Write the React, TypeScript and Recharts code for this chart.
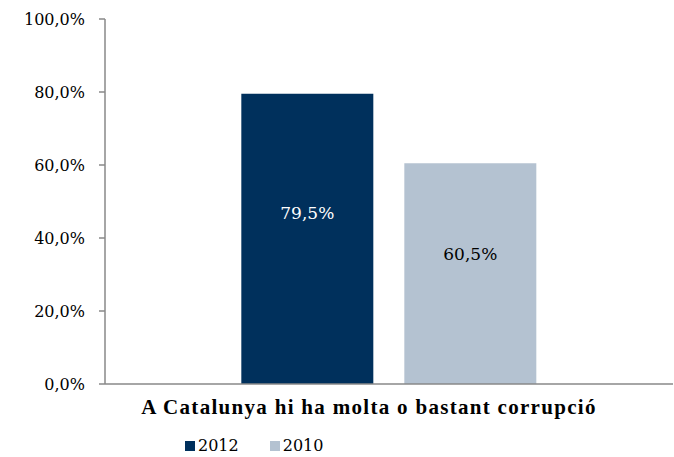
import * as React from "react";
import { BarChart, Bar, XAxis, YAxis, LabelList } from "recharts";

const categories = ["A Catalunya hi ha molta o bastant corrupció"];
const values2012 = [79.5];
const values2010 = [60.5];
const yTicks = [0, 20, 40, 60, 80, 100];

const data = categories.map((name, i) => ({
  name,
  y2012: values2012[i],
  y2010: values2010[i],
}));

const FONT = "'DejaVu Serif', serif";
const AXIS = "#898989";
const fmt = (v: number) => v.toFixed(1).replace(".", ",") + "%";

const makeLabel = (color: string) => (props: any) => {
  const { x, y, width, height, value } = props;
  return (
    <text
      x={x + width / 2}
      y={y + height * 0.41}
      textAnchor="middle"
      dominantBaseline="central"
      fill={color}
      fontFamily={FONT}
      fontSize={17}
    >
      {fmt(value)}
    </text>
  );
};

const CategoryTick = (props: any) => {
  const { x, y, payload } = props;
  return (
    <text
      x={x - 20}
      y={y + 22}
      textAnchor="middle"
      fill="#000"
      fontFamily="'Liberation Serif', serif"
      fontWeight="bold"
      fontSize={21}
      letterSpacing={1.3}
    >
      {payload.value}
    </text>
  );
};

export default function App() {
  return (
    <div style={{ position: "absolute", left: 0, top: 0, width: 674, height: 457, background: "#fff" }}>
      <BarChart
        width={674}
        height={457}
        data={data}
        margin={{ top: 19, right: 1, left: 0, bottom: 33 }}
        barCategoryGap="24%"
        barGap={31}
      >
        <XAxis
          dataKey="name"
          height={40}
          axisLine={{ stroke: AXIS, strokeWidth: 1.5 }}
          tickLine={false}
          tick={<CategoryTick />}
          interval={0}
        />
        <YAxis
          width={105}
          domain={[0, 100]}
          ticks={yTicks}
          tickFormatter={fmt}
          axisLine={{ stroke: AXIS, strokeWidth: 1.5 }}
          tickLine={{ stroke: AXIS, strokeWidth: 1.5 }}
          tickSize={6}
          tickMargin={14}
          tick={{ fill: "#000", fontFamily: FONT, fontSize: 16 }}
        />
        <Bar dataKey="y2012" fill="#00305C" isAnimationActive={false}>
          <LabelList dataKey="y2012" content={makeLabel("#fff")} />
        </Bar>
        <Bar dataKey="y2010" fill="#B4C2D1" isAnimationActive={false}>
          <LabelList dataKey="y2010" content={makeLabel("#000")} />
        </Bar>
      </BarChart>
      <div
        style={{
          position: "absolute",
          top: 436,
          left: 185,
          display: "flex",
          alignItems: "center",
          fontFamily: FONT,
          fontSize: 16,
          color: "#000",
        }}
      >
        <span style={{ width: 10, height: 10, background: "#00305C", marginRight: 3 }} />
        <span style={{ marginRight: 31 }}>2012</span>
        <span style={{ width: 10, height: 10, background: "#B4C2D1", marginRight: 3 }} />
        <span>2010</span>
      </div>
    </div>
  );
}
